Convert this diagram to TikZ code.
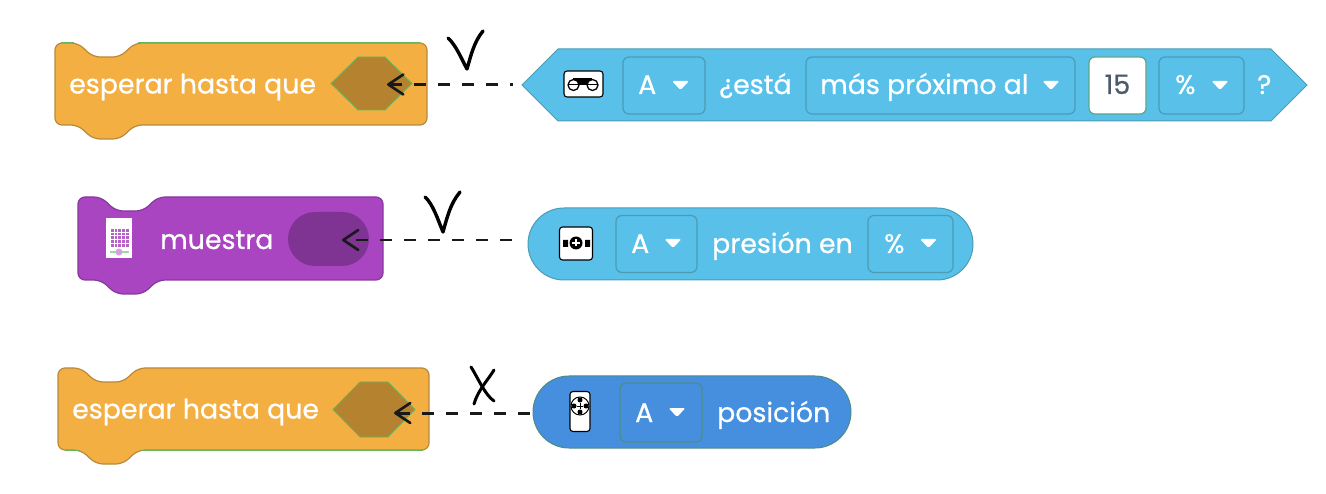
\documentclass[tikz,border=0pt]{standalone}
\usepackage{fontspec}
\setmainfont[FakeBold=0.7]{Poppins}
\usetikzlibrary{positioning, arrows.meta, shapes.misc}
\definecolor{orangeblock}{HTML}{F3AF42}
\definecolor{orangeedge}{HTML}{B98A3C}
\definecolor{orangeslot}{HTML}{B58330}
\definecolor{purpleblock}{HTML}{A945C1}
\definecolor{purpleedge}{HTML}{87389C}
\definecolor{purpleslot}{HTML}{7F3393}
\definecolor{skyblock}{HTML}{58C0E9}
\definecolor{skyedge}{HTML}{4C9CB4}
\definecolor{blueblock}{HTML}{458FDE}
\definecolor{blueedge}{HTML}{4F8C86}
\definecolor{seamgreen}{HTML}{69B45A}
\definecolor{numgray}{HTML}{4D5A6B}
\tikzset{
    x=1pt, y=-1pt,
    blocktext/.style={anchor=base west, inner sep=0pt, text=white, font=\fontsize{26.8}{27}\selectfont},
    numtext/.style={blocktext, text=numgray},
    chip/.style={draw=skyedge, line width=1.2pt, fill=skyblock, rounded corners=6pt, inner sep=0pt, minimum height=57pt},
    chipdark/.style={chip, draw=blueedge, fill=blueblock, minimum height=59pt},
    numbox/.style={chip, draw=seamgreen!50!skyedge, fill=white},
    hexframe/.style={inner sep=0pt, outer sep=0pt},
    hexslot/.style={draw=seamgreen, line width=.8pt, fill=orangeslot},
    hexsensor/.style={draw=skyedge, line width=1pt, fill=skyblock},
    pillslot/.style={rounded rectangle, fill=purpleslot, inner sep=0pt, minimum width=81pt, minimum height=54pt},
    pillsensor/.style={rounded rectangle, draw=skyedge, line width=1pt, fill=skyblock, inner sep=0pt, minimum height=72pt},
    iconbox/.style={draw=black, line width=1.1pt, fill=white, rounded corners=3pt, inner sep=0pt},
    dashline/.style={draw=black!90, dash pattern=on 12pt off 12pt,
        -{Straight Barb[length=15pt,width=20pt,line width=2.6pt,round]}},
    handmark/.style={draw=black, line width=3.4pt, line cap=round, line join=round},
    orangestack/.style={draw=orangeedge, line width=1.2pt, fill=orangeblock},
    purplestack/.style={draw=purpleedge, line width=1.2pt, fill=purpleblock},
    pics/droptri/.style={code={\fill[white, rounded corners=1.5pt] (0,0) -- (17,0) -- (8.5,9) -- cycle;}}
}
% style, left, top, width, height
\newcommand{\stackblock}[5]{
    \draw[#1, rounded corners=7pt] (#2,{#3+20}) -- (#2,#3) -- ++(23,0) -- ++(15,14) -- ++(27,0) -- ++(15,-14)
        -- ++({#4-80},0) -- ++(0,#5) -- ++({80-#4},0)
        -- ++(-15,14) -- ++(-27,0) -- ++(-15,-14) -- ++(-23,0) -- cycle;
}
% style, node name, slant
\newcommand{\hexfill}[3]{
    \draw[#1] (#2.west) -- ([xshift=#3]#2.north west) -- ([xshift=-#3]#2.north east)
        -- (#2.east) -- ([xshift=-#3]#2.south east) -- ([xshift=#3]#2.south west) -- cycle;
}
\begin{document}
\begin{tikzpicture}
    \useasboundingbox (0,0) rectangle (1326,494);

    % first row
    \stackblock{orangestack}{55}{43}{372}{82}
    \draw[seamgreen, line width=1pt] (74,43) -- (61,43) (138,43) -- (420,43);
    \node[blocktext]                    (waitA)     at (69,93.5)    {esperar hasta que};
    \node[hexframe, minimum width=81pt, minimum height=53pt]  (slotA) at (371.5,83.5) {};
    \hexfill{hexslot}{slotA}{27pt}
    \node[hexframe, minimum width=785pt, minimum height=72pt] (sensA) at (914.5,85) {};
    \hexfill{hexsensor}{sensA}{36pt}
    \node[iconbox, minimum width=39pt, minimum height=26pt] (iconA) at (583.5,84) {};
    \fill[black] (573,78) rectangle (592,85);
    \draw[black, line width=1.3pt, fill=white] (573.5,85) circle (5.5) (592.5,85) circle (5.5);
    \draw[black, line width=1pt] (568,85) -- (579,85) (587,85) -- (598,85);
    \node[chip, minimum width=82pt]     (portA)     at (664,85.5)   {};
    \node[blocktext]                    (portAt)    at (638,94)     {A};
    \pic at (672,81) {droptri};
    \node[blocktext]                    (isA)       at (719,94)     {¿está};
    \node[chip, minimum width=269pt]    (modeA)     at (940.5,85.5) {};
    \node[blocktext]                    (modeAt)    at (820,94)     {más próximo al};
    \pic at (1042.5,81) {droptri};
    \node[numbox, minimum width=57pt]   (valueA)    at (1117.5,85.5) {};
    \node[numtext, anchor=base]         (valueAt)   at (1117.5,94)  {15};
    \node[chip, minimum width=85pt]     (unitA)     at (1201.5,85.5) {};
    \node[blocktext]                    (unitAt)    at (1175,94)    {\%};
    \pic at (1211.5,81) {droptri};
    \node[blocktext]                    (markA)     at (1257,94)    {?};
    \coordinate (tipA) at (387,84.5);
    \draw[dashline, line width=3pt, dash phase=9pt, shorten <=9pt] (sensA.west |- tipA) -- (tipA);
    \draw[handmark] (448,38) .. controls (456,45) and (462,60) .. (467,69)
                             .. controls (471,55) and (474,42) .. (483,31);

    % second row
    \stackblock{purplestack}{78}{197}{305}{83}
    \node[iconbox, draw=none, rounded corners=0pt, minimum width=26pt, minimum height=40pt] (iconB) at (119,238) {};
    \fill[purpleblock!85!white] (110,228) rectangle (129,247);
    \draw[shift={(110,228)}, white, line width=.5pt, step=3.8pt] (0,0) grid (19,19);
    \draw[black!35!green!40!white, line width=2.5pt] (110,252) -- (129,252);
    \fill[purpleblock!50!white] (119,252) circle (3.5);
    \node[blocktext]                    (showB)     at (160,249)    {muestra};
    \node[pillslot]                     (slotB)     at (328.5,239)  {};
    \node[pillsensor, minimum width=445pt] (sensB)  at (750.5,244)  {};
    \node[iconbox, minimum width=33pt, minimum height=33pt] (iconBs) at (576,243.5) {};
    \fill[black] (576,243) circle (6.5) (563,240) rectangle (568,247) (585,240) rectangle (590,247);
    \draw[white, line width=1.3pt] (572,243) -- (580,243) (576,239.5) -- (576,246.5);
    \node[chip, minimum width=81pt]     (portB)     at (656.5,244)  {};
    \node[blocktext]                    (portBt)    at (631,253)    {A};
    \pic at (664.5,239) {droptri};
    \node[blocktext]                    (pressB)    at (712,253)    {presión en};
    \node[chip, minimum width=85pt]     (unitB)     at (910.5,244)  {};
    \node[blocktext]                    (unitBt)    at (884,253)    {\%};
    \pic at (920,239) {droptri};
    \coordinate (tipB) at (342,240);
    \draw[dashline, line width=2pt, dash phase=18pt, shorten <=10pt] (sensB.west |- tipB) -- (tipB);
    \draw[handmark] (425,197) .. controls (433,204) and (438,220) .. (443,232)
                              .. controls (447,218) and (450,204) .. (460,192);

    % third row
    \stackblock{orangestack}{58}{368}{371}{82}
    \draw[seamgreen, line width=1pt] (80,450) -- (65,450) (141,450) -- (423,450);
    \node[blocktext]                    (waitC)     at (72,418.5)   {esperar hasta que};
    \node[hexframe, minimum width=82pt, minimum height=55pt]  (slotC) at (374,409.5) {};
    \hexfill{hexslot}{slotC}{27pt}
    \node[pillsensor, draw=blueedge, fill=blueblock, minimum width=318pt] (sensC) at (692,412) {};
    \node[iconbox, minimum width=20pt, minimum height=40pt] (iconC) at (580,411.5) {};
    \draw[black, line width=1pt] (580,406) circle (9);
    \fill[black] (574,406) circle (2.5) (586,406) circle (2.5) (580,400) circle (2.5) (580,412) circle (2.5);
    \draw[black, line width=.8pt] (577,406) -- (583,406) (580,403) -- (580,409);
    \node[chipdark, minimum width=82pt] (portC)     at (661,412.5)  {};
    \node[blocktext]                    (portCt)    at (635,422)    {A};
    \pic at (668.5,408) {droptri};
    \node[blocktext]                    (posC)      at (717,422)    {posición};
    \coordinate (tipC) at (394,413);
    \draw[dashline, line width=3pt, shorten <=3pt] (sensC.west |- tipC) -- (tipC);
    \draw[handmark, line width=3pt] (471,367) .. controls (478,378) and (485,395) .. (494,401);
    \draw[handmark, line width=3pt] (494,370) .. controls (488,380) and (478,390) .. (474,404);
\end{tikzpicture}
\end{document}
